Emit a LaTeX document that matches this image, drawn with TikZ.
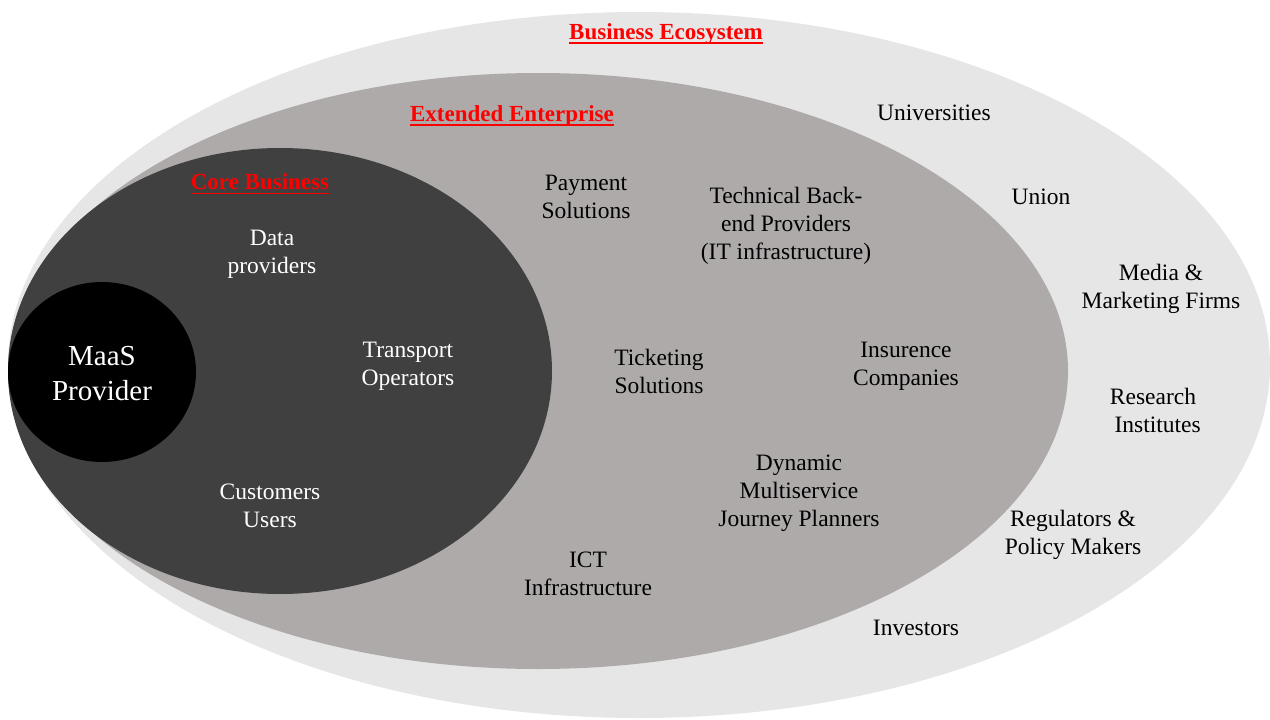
\documentclass[tikz,border=0pt]{standalone}
\usepackage{fontspec}
\setmainfont{Liberation Serif}
\definecolor{ecoGray}{HTML}{E6E6E6}
\definecolor{extGray}{HTML}{AEAAAA}
\definecolor{coreGray}{HTML}{404040}
\definecolor{headRed}{HTML}{FF0000}
\newcommand{\thickul}[1]{\setbox0=\hbox{#1}\leavevmode\rlap{\raisebox{-4.2pt}{\rule{\wd0}{1.5pt}}}\box0}
\begin{document}
\begin{tikzpicture}[x=1pt,y=-1pt,
  lbl/.style={align=center,font=\fontsize{23.5}{28}\selectfont,inner sep=0pt},
  dark/.style={lbl,text=black},
  light/.style={lbl,text=white},
  head/.style={inner sep=0pt,text=headRed,font=\fontsize{23}{28}\selectfont\bfseries}]
\useasboundingbox (0,0) rectangle (1270,720);
% ellipses
\fill[ecoGray] (639,365) ellipse [x radius=631, y radius=353];
\fill[extGray] (538,371) ellipse [x radius=530, y radius=298];
\fill[coreGray] (280,371) ellipse [x radius=272, y radius=223];
\fill[black] (102,372) ellipse [x radius=94, y radius=90];
% headings
\node[head] (eco) at (666,34) {\thickul{Business Ecosystem}};
\node[head] (ext) at (512,116) {\thickul{Extended Enterprise}};
\node[head] (core) at (260,184) {\thickul{Core Business}};
% MaaS
\node[light,font=\fontsize{29}{35}\selectfont] (maas) at (102,374) {MaaS\\Provider};
% core
\node[light] (data) at (272,254) {Data\\providers};
\node[light] (transp) at (408,366) {Transport\\Operators};
\node[light] (cust) at (270,506) {Customers\\Users};
% extended
\node[dark] (pay) at (586,197) {Payment\\Solutions};
\node[dark] (tech) at (786,226) {Technical Back-\\end Providers\\(IT infrastructure)};
\node[dark] (tick) at (659,371) {Ticketing\\Solutions};
\node[dark] (ins) at (906,366) {Insurence\\Companies};
\node[dark] (dyn) at (799,493) {Dynamic\\Multiservice\\Journey Planners};
\node[dark] (ict) at (588,574) {ICT\\Infrastructure};
% ecosystem
\node[dark] (uni) at (934,113) {Universities};
\node[dark] (union) at (1041,197) {Union};
\node[dark] (media) at (1161,289) {Media \&\\Marketing Firms};
\node[dark] (res) at (1153,410) {Research\\\hspace*{0.4em}Institutes};
\node[dark] (reg) at (1073,535) {Regulators \&\\Policy Makers};
\node[dark] (inv) at (916,628) {Investors};
\end{tikzpicture}
\end{document}
